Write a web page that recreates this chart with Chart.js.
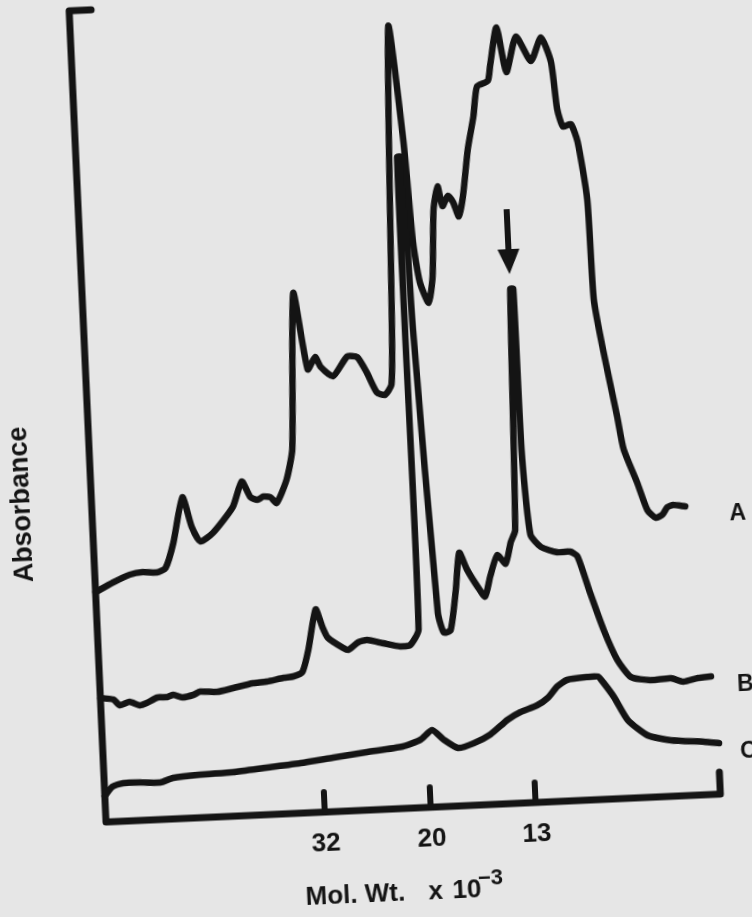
<!DOCTYPE html>
<html>
<head>
<meta charset="utf-8">
<script src="https://cdn.jsdelivr.net/npm/chart.js@4.4.0/dist/chart.umd.min.js"></script>
<style>
  html, body { margin: 0; padding: 0; background: #e6e6e6; overflow: hidden; }
  #wrap { position: relative; width: 752px; height: 917px; overflow: hidden; }
  /* the scanned sheet sits slightly tilted; canvas is a bit larger than the window so corners stay covered */
  #elution { position: absolute; left: 0; top: -40px; transform: rotate(-2.6deg); transform-origin: 106px 862px; }
</style>
</head>
<body>
<div id="wrap"><canvas id="elution" width="800" height="960"></canvas></div>
<script>
// elution position along the axis (arbitrary units) vs absorbance (arbitrary units)
const traceA = [[0,230],[18,239],[35,246],[48,248],[62,247],[71,251],[80,276],[91,321],[99,291],[107,276],
  [120,284],[141,309],[151,334],[159,318],[166,315],[172,318],[179,317],[185,311],[196,334],[203,364],
  [211,520],[222,443],[230,455],[235,445],[247,435],[262,454],[272,453],[281,437],[290,417],[298,414],
  [305,424],[308,479],[318,782],[328,666],[333,565],[338,525],[346,504],[351,530],[355,597],[360,620],
  [364,600],[370,610],[375,603],[380,589],[385,609],[392,656],[399,688],[404,718],[415,723],[418,738],
  [426,776],[434,731],[445,766],[459,741],[470,764],[479,739],[483,692],[488,674],[496,676],[502,658],
  [509,600],[511,500],[518,449],[529,382],[534,349],[546,315],[555,287],[563,279],[570,282],[575,289],
  [581,291],[593,289]];
const traceB = [[0,124],[13,122],[19,116],[29,119],[39,115],[46,117],[57,122],[67,122],[73,124],[82,121],
  [93,123],[100,126],[117,125],[133,128],[153,132],[167,133],[184,136],[194,137],[203,141],[210,163],
  [219,203],[225,185],[230,174],[245,163],[250,161],[260,168],[269,170],[285,166],[302,162],[312,163],
  [321,178],[321,478],[321,651],[325,651],[329,478],[341,194],[346,174],[353,176],[360,216],[365,253],
  [372,236],[382,218],[389,208],[395,228],[403,249],[411,240],[417,261],[422,273],[428,514],[431,514],
  [432,353],[437,268],[447,255],[463,249],[476,249],[483,244],[494,207],[506,169],[518,139],[531,121],
  [550,117],[571,118],[583,114],[598,117],[611,118]];
const traceC = [[0,26],[8,35],[19,38],[36,38],[56,37],[69,41],[96,43],[129,44],[163,47],[197,50],
  [230,54],[264,58],[300,62],[318,68],[330,77],[341,67],[355,58],[371,62],[388,70],[406,84],
  [419,91],[436,97],[447,104],[457,115],[467,121],[488,123],[498,123],[503,117],[513,102],[526,78],
  [545,62],[568,56],[601,53],[616,51]];
const seriesNames = ['A', 'B', 'C'];
const tickPos = [219, 325, 430];        // marker positions on the elution axis
const tickLabels = ['32', '20', '13'];  // Mol. Wt. x 10^-3
const axisEnd = 615;
const absMax = 812;

const ink = '#141414';
const fontFamily = '"Liberation Sans", Arial, sans-serif';

const toPoints = arr => arr.map(p => ({ x: p[0], y: p[1] }));

const sketchPlugin = {
    id: 'sketch',
    afterDatasetsDraw(chart) {
        const { ctx, chartArea: a, scales: { x, y } } = chart;
        ctx.save();
        ctx.strokeStyle = ink;
        ctx.fillStyle = ink;
        ctx.lineWidth = 7;
        ctx.lineCap = 'round';
        ctx.lineJoin = 'round';

        // bracket-shaped axes with end tick
        ctx.beginPath();
        ctx.moveTo(x.getPixelForValue(22), a.top);
        ctx.lineTo(a.left, a.top);
        ctx.lineTo(a.left, a.bottom);
        ctx.lineTo(a.right, a.bottom);
        ctx.lineTo(a.right, a.bottom - 22);
        ctx.stroke();

        // inward tick marks
        ctx.lineWidth = 6;
        tickPos.forEach(v => {
            const px = x.getPixelForValue(v);
            ctx.beginPath();
            ctx.moveTo(px, a.bottom);
            ctx.lineTo(px, a.bottom - 20);
            ctx.stroke();
        });

        // arrow over the sharp peak of trace B
        const peak = chart.data.datasets[1].data
            .filter(p => p.x > 400)
            .reduce((m, p) => (p.y > m.y ? p : m));
        const ax = x.getPixelForValue(peak.x);
        const ay = y.getPixelForValue(peak.y);
        ctx.lineWidth = 6;
        ctx.lineCap = 'butt';
        ctx.beginPath();
        ctx.moveTo(ax, ay - 80);
        ctx.lineTo(ax, ay - 35);
        ctx.stroke();
        ctx.beginPath();
        ctx.moveTo(ax - 11, ay - 40);
        ctx.lineTo(ax + 11, ay - 40);
        ctx.lineTo(ax, ay - 15);
        ctx.closePath();
        ctx.fill();

        // trace names at the right-hand ends
        ctx.font = 'bold 23px ' + fontFamily;
        ctx.textAlign = 'center';
        ctx.textBaseline = 'middle';
        chart.data.datasets.forEach(ds => {
            const last = ds.data[ds.data.length - 1];
            ctx.fillText(ds.label, a.right + 30, y.getPixelForValue(last.y) + 10);
        });

        // y title
        ctx.save();
        ctx.translate(a.left - 69, a.bottom - 321);
        ctx.rotate(-Math.PI / 2);
        ctx.font = 'bold 27px ' + fontFamily;
        ctx.fillText('Absorbance', 0, 0);
        ctx.restore();

        // x title with superscript exponent
        const tx = a.left + 196;
        const ty = a.bottom + 92;
        ctx.textAlign = 'left';
        ctx.textBaseline = 'alphabetic';
        ctx.font = 'bold 26px ' + fontFamily;
        ctx.fillText('Mol. Wt.', tx, ty);
        ctx.fillText('x', tx + 123, ty);
        ctx.fillText('10', tx + 147, ty);
        ctx.font = 'bold 22px ' + fontFamily;
        ctx.fillText('\u22123', tx + 173, ty - 12);

        ctx.restore();
    }
};

const canvasElement = document.getElementById('elution');
if (canvasElement) {
    const ctx = canvasElement.getContext('2d');

    const elutionChart = new Chart(ctx, {
        type: 'line',
        data: {
            datasets: [traceA, traceB, traceC].map((t, i) => ({
                label: seriesNames[i],
                data: toPoints(t),
                borderColor: ink,
                borderWidth: 6.5,
                pointRadius: 0,
                tension: 0.2,
                borderCapStyle: 'round',
                borderJoinStyle: 'round',
                fill: false,
                clip: 12
            }))
        },
        options: {
            responsive: false,
            animation: false,
            events: [],
            layout: { padding: { left: 106, right: 800 - 106 - axisEnd, top: 862 - absMax, bottom: 960 - 862 - 50 } },
            plugins: {
                legend: { display: false },
                tooltip: { enabled: false }
            },
            scales: {
                x: {
                    type: 'linear',
                    min: 0,
                    max: axisEnd,
                    border: { display: false },
                    grid: { display: false, drawTicks: false },
                    afterBuildTicks: s => { s.ticks = tickPos.map(v => ({ value: v })); },
                    afterFit: s => { s.height = 50; },
                    ticks: {
                        autoSkip: false,
                        maxRotation: 0,
                        padding: 16,
                        color: ink,
                        font: { family: fontFamily, size: 26, weight: 'bold' },
                        callback: (v, i) => tickLabels[i]
                    }
                },
                y: {
                    type: 'linear',
                    display: false,
                    min: 0,
                    max: absMax
                }
            }
        },
        plugins: [sketchPlugin]
    });
} else {
    console.error('Canvas element not found');
}
</script>
</body>
</html>
